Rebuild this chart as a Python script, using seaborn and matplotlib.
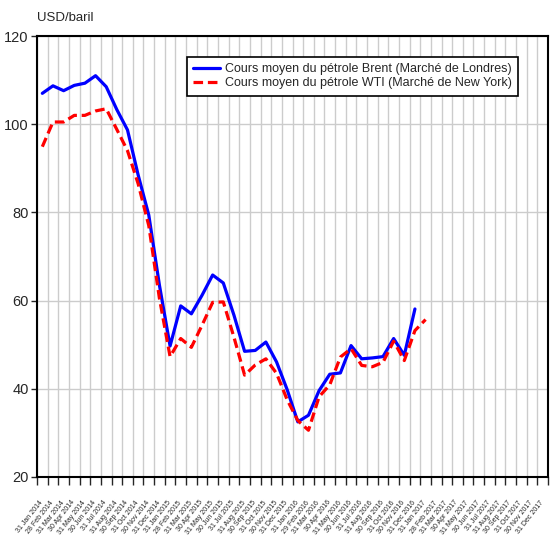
import numpy as np
import pandas as pd
import matplotlib
matplotlib.use("Agg")
import matplotlib.pyplot as plt
import seaborn as sns

# ===== données (USD/baril, moyennes mensuelles) =====
mois = pd.date_range("2014-01-31", periods=48, freq="ME").strftime("%d %b %Y").tolist()

brent = [107.0, 108.7, 107.6, 108.8, 109.3, 111.0, 108.5, 103.3, 98.7, 88.5,
         79.4, 63.5, 49.7, 58.8, 57.0, 61.2, 65.8, 64.0, 56.7, 48.5,
         48.7, 50.6, 46.1, 39.8, 32.5, 34.0, 39.6, 43.3, 43.6, 49.8,
         46.8, 47.0, 47.3, 51.4, 47.6, 58.1]
wti = [94.9, 100.5, 100.5, 102.0, 102.0, 103.0, 103.5, 98.8, 94.0, 86.5,
       77.0, 60.5, 47.3, 51.4, 49.4, 54.4, 59.6, 59.7, 51.7, 43.1,
       45.4, 46.8, 43.5, 37.5, 32.8, 30.6, 38.2, 40.9, 47.2, 49.1,
       45.3, 45.0, 46.0, 50.8, 46.4, 53.2, 55.7]

lib_brent = "Cours moyen du pétrole Brent (Marché de Londres)"
lib_wti = "Cours moyen du pétrole WTI (Marché de New York)"

df = pd.concat([
    pd.DataFrame({"x": np.arange(len(brent)), "prix": brent, "serie": lib_brent}),
    pd.DataFrame({"x": np.arange(len(wti)), "prix": wti, "serie": lib_wti}),
])

# ===== style =====
sns.set_style("white")
plt.rcParams["font.family"] = ["Liberation Sans", "DejaVu Sans"]

fig = plt.figure(figsize=(5.53, 5.35), dpi=100)
ax = fig.add_axes([37 / 553, 1 - 477 / 535, 511 / 553, 441 / 535])

sns.lineplot(
    data=df, x="x", y="prix", hue="serie", style="serie",
    palette={lib_brent: "#0000ff", lib_wti: "#ff0000"},
    dashes={lib_brent: "", lib_wti: (3, 1.5)},
    linewidth=2.3, ax=ax,
)

# axes
ax.set_xlim(-0.5, 47.5)
ax.set_ylim(20, 120)
ax.set_yticks([20, 40, 60, 80, 100, 120])
ax.tick_params(axis="y", labelsize=10.5, length=4, width=1, direction="out", left=True, pad=2)

# ticks aux limites des mois (grille), étiquettes séparées
ax.set_xticks(np.arange(-0.5, 48, 1))
ax.set_xticklabels([])
ax.tick_params(axis="x", length=6, width=1, direction="out", bottom=True)
ax.set_xticks(np.arange(48) - 0.3, minor=True)
ax.set_xticklabels(mois, minor=True, rotation=52, ha="right", va="top",
                   rotation_mode="anchor", fontsize=5.0)
ax.tick_params(axis="x", which="minor", length=0, pad=16)

ax.grid(True, color="#cccccc", linewidth=1)
ax.set_axisbelow(True)
for s in ax.spines.values():
    s.set_color("black")
    s.set_linewidth(1.5)

ax.set_xlabel("")
ax.set_ylabel("")
fig.text(37 / 553, 1 - 18 / 535, "USD/baril", fontsize=9.5, va="center", ha="left")

leg = ax.legend(loc="upper left", bbox_to_anchor=(0.294, 0.952), borderaxespad=0,
                fontsize=9, handlelength=2.1, handletextpad=0.4,
                frameon=True, fancybox=False, edgecolor="black",
                borderpad=0.5, labelspacing=0.15)
leg.get_frame().set_linewidth(1.2)
leg.get_frame().set_alpha(1)

fig.savefig("out.png", dpi=100)
